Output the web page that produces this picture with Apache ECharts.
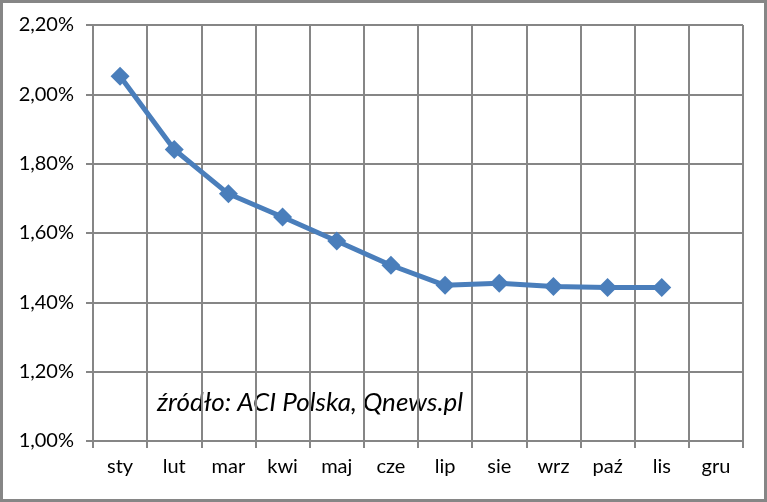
<!DOCTYPE html>
<html>
<head>
<meta charset="utf-8">
<script src="https://cdn.jsdelivr.net/npm/echarts@6/dist/echarts.min.js"></script>
<style>
  html, body { margin: 0; padding: 0; background: #fff; }
  #chart {
    width: 767px;
    height: 502px;
    box-sizing: border-box;
    border: 3px solid #868686;
  }
</style>
</head>
<body>
<div id="chart"></div>
<script>
const months = ['sty', 'lut', 'mar', 'kwi', 'maj', 'cze', 'lip', 'sie', 'wrz', 'paź', 'lis', 'gru'];
const rates = [2.052, 1.841, 1.713, 1.646, 1.577, 1.507, 1.449, 1.455, 1.446, 1.443, 1.443, null];
const sourceNote = 'źródło: ACI Polska, Qnews.pl';

const chart = echarts.init(document.getElementById('chart'));
const font = 'Lato, "Open Sans", sans-serif';

chart.setOption({
  animation: false,
  grid: {
    left: 90,
    right: 21,
    top: 22,
    bottom: 58,
    outerBoundsMode: 'none'
  },
  xAxis: {
    type: 'category',
    data: months,
    boundaryGap: true,
    axisLine: { lineStyle: { color: '#868686', width: 2 } },
    axisTick: { show: true, length: 7, alignWithLabel: false, lineStyle: { color: '#868686', width: 2 } },
    splitLine: { show: true, lineStyle: { color: '#868686', width: 2 } },
    axisLabel: { color: '#000', fontSize: 20, fontFamily: font, margin: 16 }
  },
  yAxis: {
    type: 'value',
    min: 1.0,
    max: 2.2,
    interval: 0.2,
    axisLine: { show: true, lineStyle: { color: '#868686', width: 2 } },
    axisTick: { show: true, length: 7, lineStyle: { color: '#868686', width: 2 } },
    splitLine: { lineStyle: { color: '#868686', width: 2 } },
    axisLabel: {
      color: '#000',
      fontSize: 20,
      fontFamily: font,
      margin: 19,
      formatter: v => v.toFixed(2).replace('.', ',') + '%'
    }
  },
  series: [{
    type: 'line',
    data: rates,
    lineStyle: { color: '#4a7ebb', width: 5 },
    itemStyle: { color: '#4a7ebb' },
    symbol: 'diamond',
    symbolSize: 19,
    showAllSymbol: true
  }],
  graphic: [{
    type: 'text',
    left: 154,
    top: 387,
    style: {
      text: sourceNote,
      fill: '#000',
      font: 'italic 26px ' + font
    }
  }]
});
</script>
</body>
</html>
